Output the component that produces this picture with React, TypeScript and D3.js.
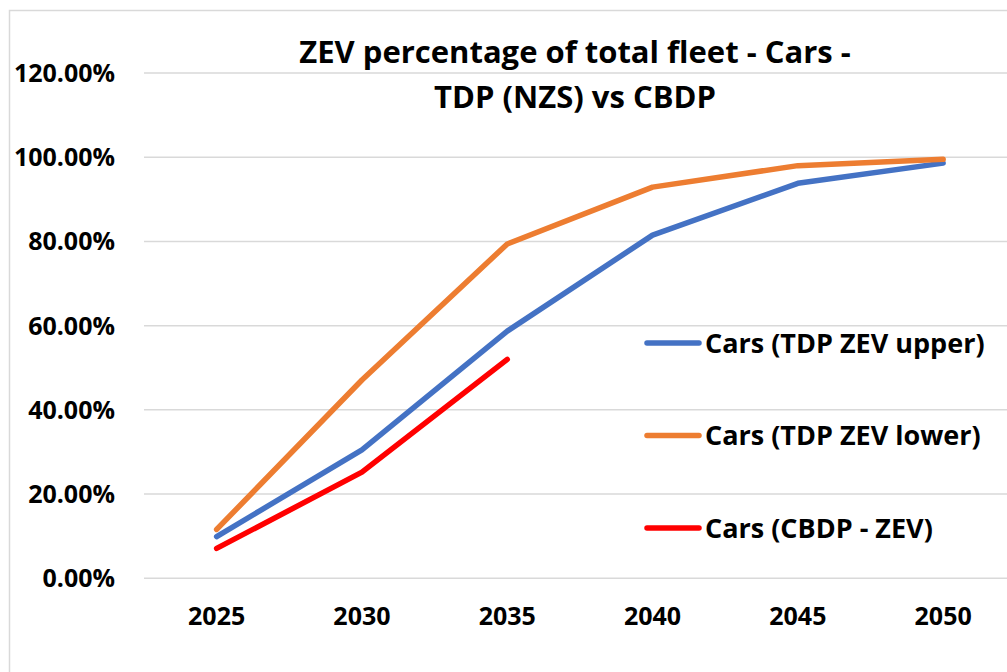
import { useEffect, useRef } from "react";
import * as d3 from "d3";

const years = ["2025", "2030", "2035", "2040", "2045", "2050"];
const tdpUpper = [0.099, 0.305, 0.587, 0.815, 0.938, 0.986];
const tdpLower = [0.116, 0.471, 0.794, 0.929, 0.98, 0.995];
const cbdp = [0.071, 0.252, 0.52];
const seriesNames = ["Cars (TDP ZEV upper)", "Cars (TDP ZEV lower)", "Cars (CBDP - ZEV)"];
const seriesColors = ["#4472C4", "#ED7D31", "#FF0000"];
const yTicks = [0, 0.2, 0.4, 0.6, 0.8, 1.0, 1.2];
const titleLines = ["ZEV percentage of total fleet - Cars -", "TDP (NZS) vs CBDP"];

const FONT = "'Open Sans', sans-serif";

export default function App() {
  const ref = useRef<SVGSVGElement>(null);

  useEffect(() => {
    if (!ref.current) return;
    const width = 1007;
    const height = 672;
    const marginLeft = 144;
    const bandW = 145.3;

    const svg = d3.select(ref.current);
    svg.selectAll("*").remove();

    const x = d3
      .scaleBand<string>()
      .domain(years)
      .range([marginLeft, marginLeft + bandW * years.length]);
    const y = d3.scaleLinear().domain([0, 1.2]).range([578.3, 73]);

    svg.append("rect").attr("width", width).attr("height", height).attr("fill", "#fff");

    // chart border (cut off at right/bottom)
    svg
      .append("rect")
      .attr("x", 9.5)
      .attr("y", 10.5)
      .attr("width", width + 20)
      .attr("height", height + 20)
      .attr("fill", "none")
      .attr("stroke", "#d9d9d9")
      .attr("stroke-width", 1.5);

    // gridlines + y labels
    const yAxis = svg.append("g");
    yAxis
      .selectAll("line")
      .data(yTicks)
      .join("line")
      .attr("x1", marginLeft)
      .attr("x2", width)
      .attr("y1", (d) => y(d))
      .attr("y2", (d) => y(d))
      .attr("stroke", "#d9d9d9")
      .attr("stroke-width", 1.5);
    yAxis
      .selectAll("text")
      .data(yTicks)
      .join("text")
      .attr("x", 115)
      .attr("y", (d) => y(d))
      .attr("dy", "0.36em")
      .attr("text-anchor", "end")
      .attr("font-family", FONT)
      .attr("font-weight", "bold")
      .attr("font-size", 25)
      .attr("fill", "#000")
      .text((d) => d3.format(".2%")(d));

    // x labels
    svg
      .append("g")
      .selectAll("text")
      .data(years)
      .join("text")
      .attr("x", (d) => (x(d) ?? 0) + x.bandwidth() / 2)
      .attr("y", 625)
      .attr("text-anchor", "middle")
      .attr("font-family", FONT)
      .attr("font-weight", "bold")
      .attr("font-size", 25)
      .attr("fill", "#000")
      .text((d) => d);

    // series lines
    const series = [tdpUpper, tdpLower, cbdp];
    const line = d3
      .line<number>()
      .x((_, i) => (x(years[i]) ?? 0) + x.bandwidth() / 2)
      .y((d) => y(d));
    svg
      .append("g")
      .selectAll("path")
      .data(series)
      .join("path")
      .attr("d", (d) => line(d))
      .attr("fill", "none")
      .attr("stroke", (_, i) => seriesColors[i])
      .attr("stroke-width", 5.5)
      .attr("stroke-linecap", "round")
      .attr("stroke-linejoin", "round");

    // title
    svg
      .append("g")
      .selectAll("text")
      .data(titleLines)
      .join("text")
      .attr("x", 575)
      .attr("y", (_, i) => 63 + i * 45)
      .attr("text-anchor", "middle")
      .attr("font-family", FONT)
      .attr("font-weight", "bold")
      .attr("font-size", 31)
      .attr("fill", "#000")
      .text((d) => d);

    // legend
    const legend = svg
      .append("g")
      .selectAll("g")
      .data(seriesNames)
      .join("g")
      .attr("transform", (_, i) => `translate(647,${343 + i * 92.5})`);
    legend
      .append("line")
      .attr("x1", 0)
      .attr("x2", 52)
      .attr("stroke", (_, i) => seriesColors[i])
      .attr("stroke-width", 5.5)
      .attr("stroke-linecap", "round");
    legend
      .append("text")
      .attr("x", 58)
      .attr("dy", "0.36em")
      .attr("font-family", FONT)
      .attr("font-weight", "bold")
      .attr("font-size", 27)
      .attr("fill", "#000")
      .text((d) => d);
  }, []);

  return (
    <svg
      ref={ref}
      width={1007}
      height={672}
      style={{ position: "absolute", left: 0, top: 0 }}
    />
  );
}
